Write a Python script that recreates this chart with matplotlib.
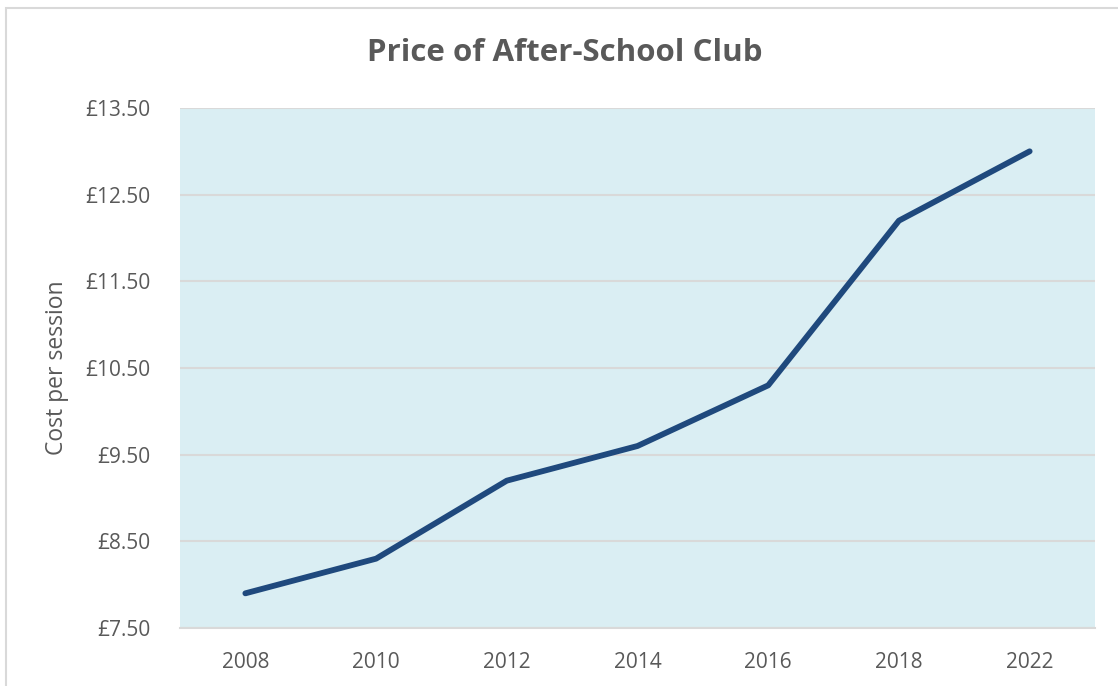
import matplotlib.pyplot as plt
from matplotlib.patches import Rectangle

years = ["2008", "2010", "2012", "2014", "2016", "2018", "2022"]
cost = [7.90, 8.30, 9.20, 9.60, 10.30, 12.20, 13.00]
y_ticks = [7.5, 8.5, 9.5, 10.5, 11.5, 12.5, 13.5]

text_color = "#595959"
plt.rcParams["font.family"] = ["Open Sans", "DejaVu Sans"]

W, H = 1118, 686
fig = plt.figure(figsize=(W / 100, H / 100), dpi=100)
ax = fig.add_axes([180 / W, 1 - 628 / H, 915 / W, 520 / H])

# outer chart border (cropped on right and bottom)
fig.patches.append(Rectangle((6 / W, -0.1), 1.2, 1 - 8 / H + 0.1, transform=fig.transFigure,
                             fill=False, edgecolor="#D9D9D9", linewidth=1.5))

x = list(range(len(years)))
ax.set_facecolor("#DAEEF3")
ax.plot(x, cost, color="#1F497D", linewidth=4.2, solid_capstyle="round", solid_joinstyle="round", zorder=3)

ax.set_xlim(-0.5, len(years) - 0.5)
ax.set_ylim(7.5, 13.5)
ax.set_xticks(x)
ax.set_xticklabels(years)
ax.set_yticks(y_ticks)
ax.set_yticklabels([f"£{v:.2f}" for v in y_ticks])
ax.grid(axis="y", color="#D9D9D9", linewidth=1.5, zorder=1)
ax.set_axisbelow(True)
for s in ["left", "right", "top"]:
    ax.spines[s].set_visible(False)
ax.spines["bottom"].set_color("#D9D9D9")
ax.spines["bottom"].set_linewidth(1.5)
ax.tick_params(length=0, labelsize=15, labelcolor=text_color)
ax.tick_params(axis="y", pad=21)
ax.tick_params(axis="x", pad=17)

ax.set_ylabel("Cost per session", fontsize=16.5, color=text_color, labelpad=12)
fig.text(565 / W, 1 - 53 / H, "Price of After-School Club", ha="center", va="center",
         fontsize=22.5, fontweight="bold", color=text_color)

fig.savefig("out.png", dpi=100)
